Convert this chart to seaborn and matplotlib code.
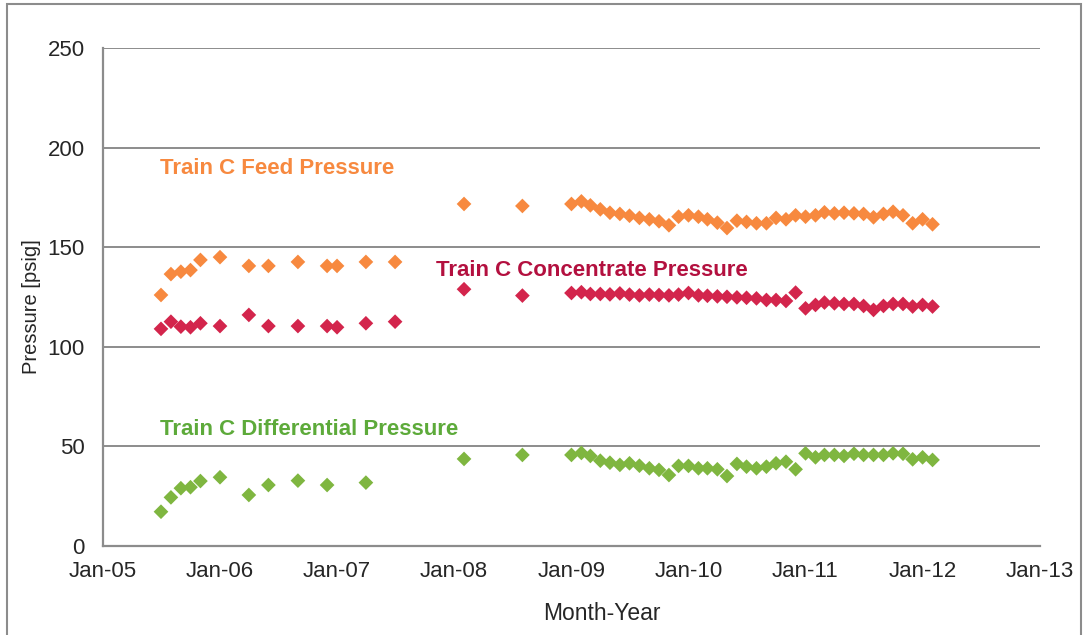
import numpy as np
import pandas as pd
import matplotlib
matplotlib.use("Agg")
import matplotlib.pyplot as plt
import matplotlib.dates as mdates
from matplotlib.patches import Rectangle
import seaborn as sns

# sparse early readings (month of sample)
early_months = ["2005-07", "2005-08", "2005-09", "2005-10", "2005-11", "2006-01",
                "2006-04", "2006-06", "2006-09", "2006-12", "2007-01", "2007-04",
                "2007-07", "2008-02", "2008-08"]
feed_early = [126, 136.5, 137.7, 138.5, 143.6, 145, 140.6, 140.6, 142.6, 140.6,
              140.6, 142.6, 142.6, 171.7, 170.7]
conc_early = [109, 112.6, 110.1, 109.8, 111.8, 110.4, 116, 110.4, 110.4, 110.4,
              109.8, 111.8, 112.6, 128.9, 125.7]
diff_early = [17.2, 24.4, 29, 29.5, 32.6, 34.5, 25.6, 30.6, 32.8, 30.6,
              np.nan, 31.8, np.nan, 43.7, 45.7]

# monthly readings Jan-09 .. Feb-12
monthly_start = "2009-01-01"
feed_monthly = [171.7, 173, 171, 169, 167.3, 166.7, 165.8, 164.7, 164, 163, 161, 165.3,
                166, 165.3, 164, 162.3, 159.6, 163.3, 162.7, 162, 162, 164.7, 164, 166,
                165.3, 166, 167.5, 167, 167.3, 167, 166.7, 165, 166.7, 167.8, 166, 162,
                164, 161.5]
conc_monthly = [127, 127.4, 126.5, 126.5, 126.3, 126.8, 126.2, 125.8, 126.2, 126, 125.8, 126.2,
                127, 125.8, 125.6, 125.3, 125.1, 124.8, 124.6, 124.3, 123.5, 123.5, 123, 127.2,
                119.3, 121, 122.2, 121.8, 121.5, 121.5, 120.5, 118.5, 120.5, 121.5, 121.5, 120.2,
                121, 120.2]
diff_monthly = [45.7, 46.7, 45.2, 42.8, 41.8, 40.7, 41.5, 40.3, 39, 38.2, 35.6, 40.2,
                40.2, 39, 39, 38.5, 35.1, 41.2, 39.8, 39, 39.8, 41.5, 42.3, 38.5,
                46.5, 44.5, 45.7, 45.7, 45.2, 46.3, 45.7, 45.7, 45.7, 46.5, 46.3, 43.5,
                44.5, 43.2]

series_names = ["Train C Feed Pressure", "Train C Concentrate Pressure",
                "Train C Differential Pressure"]
marker_colors = ["#F7893F", "#D3254C", "#7FB640"]
text_colors = ["#F7893F", "#B3103F", "#5DAA3A"]

dates = list(pd.to_datetime(early_months)) + list(
    pd.date_range(monthly_start, periods=len(feed_monthly), freq="MS"))
frames = []
for name, early, monthly in zip(series_names,
                                [feed_early, conc_early, diff_early],
                                [feed_monthly, conc_monthly, diff_monthly]):
    frames.append(pd.DataFrame({"date": dates, "pressure": early + monthly,
                                "series": name}))
df = pd.concat(frames).dropna()

sns.set_style("white")
plt.rcParams["font.family"] = ["Liberation Sans", "DejaVu Sans"]

fig = plt.figure(figsize=(10.86, 6.35), dpi=100)
ax = fig.add_axes([0.0948, 0.1402, 0.8628, 0.7842])

grid_col = "#8C8C8C"
ax.set_axisbelow(True)
ax.yaxis.grid(True, color=grid_col, lw=1.4)
ax.xaxis.grid(False)

sns.scatterplot(data=df, x="date", y="pressure", hue="series",
                hue_order=series_names, palette=marker_colors,
                marker="D", s=56, linewidth=0, legend=False, ax=ax)

ax.set_xlim(pd.Timestamp("2005-01-01"), pd.Timestamp("2013-01-01"))
ax.set_ylim(0, 250)
ax.set_yticks(range(0, 251, 50))
ax.xaxis.set_major_locator(mdates.YearLocator())
ax.xaxis.set_major_formatter(mdates.DateFormatter("%b-%y"))

for side in ["top", "right"]:
    ax.spines[side].set_visible(False)
for side in ["left", "bottom"]:
    ax.spines[side].set_color(grid_col)
    ax.spines[side].set_linewidth(1.6)

ax.tick_params(axis="both", which="major", length=5, width=1.4, color=grid_col,
               labelsize=16, labelcolor="#262626", direction="out")
ax.tick_params(axis="y", pad=8)
ax.tick_params(axis="x", pad=6)

ax.set_xlabel("Month-Year", fontsize=16.5, color="#262626")
ax.xaxis.set_label_coords(0.533, -0.113)
ax.set_ylabel("Pressure [psig]", fontsize=14.5, color="#262626")
ax.yaxis.set_label_coords(-0.066, 0.48)

label_pos = [(0.061, 0.759), (0.355, 0.554), (0.061, 0.233)]
for name, col, (tx, ty) in zip(series_names, text_colors, label_pos):
    ax.text(tx, ty, name, transform=ax.transAxes, color=col, fontsize=16,
            fontweight="bold", va="center", ha="left")

# outer chart frame
fig.patches.append(Rectangle((7 / 1086, -0.05), 1074 / 1086, 1.05 - 4 / 635,
                             transform=fig.transFigure, fill=False,
                             edgecolor="#8C8C8C", lw=1.5))

fig.savefig("out.png", dpi=100)
